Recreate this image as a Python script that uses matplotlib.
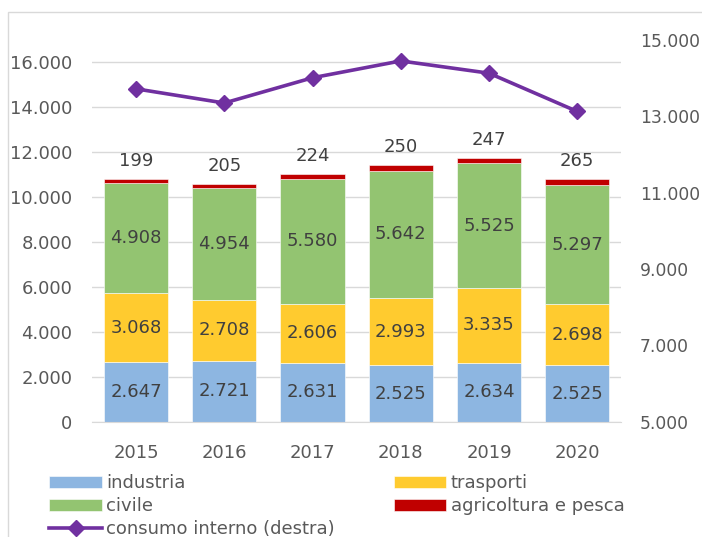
import matplotlib
matplotlib.use("Agg")
import matplotlib.pyplot as plt
from matplotlib.patches import Rectangle
from matplotlib.ticker import FuncFormatter, MultipleLocator, FixedLocator
import numpy as np

plt.rcParams['font.family'] = ['DejaVu Sans']

years = ["2015", "2016", "2017", "2018", "2019", "2020"]
industria = [2647, 2721, 2631, 2525, 2634, 2525]
trasporti = [3068, 2708, 2606, 2993, 3335, 2698]
civile = [4908, 4954, 5580, 5642, 5525, 5297]
agricoltura = [199, 205, 224, 250, 247, 265]
consumo_interno = [13710, 13340, 14000, 14440, 14120, 13120]
right_ticks = [5000, 7000, 9000, 11000, 13000, 15000]

series = [
    ("industria", industria, "#8DB6E1"),
    ("trasporti", trasporti, "#FFCB2F"),
    ("civile", civile, "#93C471"),
    ("agricoltura e pesca", agricoltura, "#C00000"),
]

TEXT = "#595959"
LABEL = "#404040"
GRID = "#D9D9D9"


def it_fmt(v, _pos=None):
    return f"{int(round(v)):,}".replace(",", ".")


fig = plt.figure(figsize=(7.02, 5.37), dpi=100)
ax = fig.add_axes([0.131, 0.2142, 0.754, 0.7122])
ax2 = ax.twinx()

x = np.arange(len(years))
width = 0.727
bottom = np.zeros(len(years))
bars = {}
for name, vals, color in series:
    vals = np.array(vals, dtype=float)
    bars[name] = ax.bar(x, vals, width, bottom=bottom, color=color, label=name,
                        edgecolor="white", linewidth=0.4, zorder=2)
    if name != "agricoltura e pesca":
        for xi, b, v in zip(x, bottom, vals):
            ax.text(xi, b + v / 2, it_fmt(v), ha="center", va="center",
                    fontsize=13, color=LABEL, zorder=3)
    else:
        for xi, b, v in zip(x, bottom, vals):
            ax.text(xi, b + v + 800, it_fmt(v), ha="center", va="center",
                    fontsize=13, color=LABEL, zorder=3)
    bottom = bottom + vals

ax.set_xlim(-0.5, len(years) - 0.5)
ax.set_ylim(0, 17000)
ax.yaxis.set_major_locator(MultipleLocator(2000))
ax.yaxis.set_major_formatter(FuncFormatter(it_fmt))
ax.grid(axis="y", color=GRID, linewidth=1.0, zorder=0)
ax.set_axisbelow(True)
ax.set_xticks(x)
ax.set_xticklabels(years)

line, = ax2.plot(x, consumo_interno, color="#7030A0", linewidth=2.6,
                 marker="D", markersize=8.5, label="consumo interno (destra)", zorder=5)
ax2.set_ylim(5000, 15000)
ax2.yaxis.set_major_locator(FixedLocator(right_ticks))
ax2.yaxis.set_major_formatter(FuncFormatter(it_fmt))

for a in (ax, ax2):
    for s in a.spines.values():
        s.set_visible(False)
    a.tick_params(length=0, labelsize=13, labelcolor=TEXT)
ax.spines["bottom"].set_visible(True)
ax.spines["bottom"].set_color(GRID)
ax.tick_params(axis="x", pad=16)
ax.tick_params(axis="y", pad=14)
ax2.tick_params(axis="y", pad=13.5, labelsize=12.3)

handles = [bars["industria"], bars["civile"], line, bars["trasporti"], bars["agricoltura e pesca"]]
labels = ["industria", "civile", "consumo interno (destra)", "trasporti", "agricoltura e pesca"]
leg = fig.legend(handles, labels, ncol=2, loc="upper left",
                 bbox_to_anchor=(0.0705, 0.117), frameon=False, fontsize=13,
                 handlelength=2.9, handleheight=0.65, handletextpad=0.25,
                 labelspacing=0.28, columnspacing=3.27, borderpad=0, borderaxespad=0)
for t in leg.get_texts():
    t.set_color(TEXT)

fig.patches.append(Rectangle((8 / 702, -0.2), 1.2, 1.2 - 12 / 537,
                             transform=fig.transFigure, fill=False,
                             edgecolor=GRID, linewidth=1.0))

fig.savefig("out.png", dpi=100)
